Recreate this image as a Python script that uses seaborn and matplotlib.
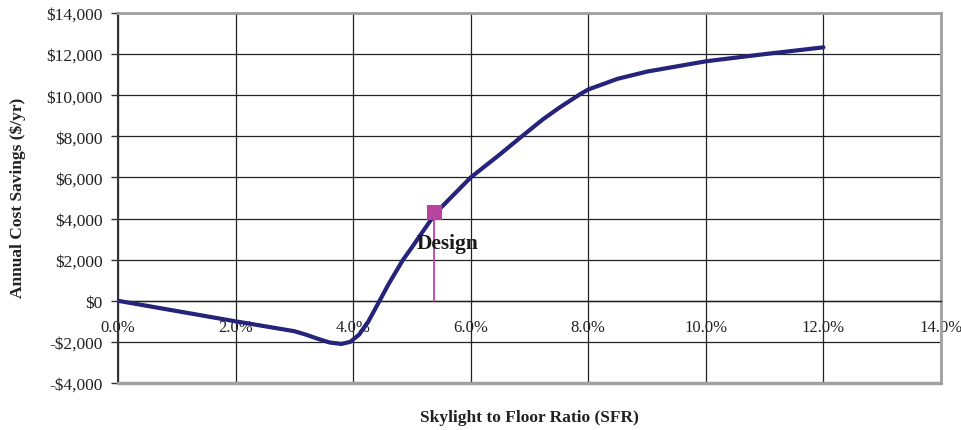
import matplotlib
matplotlib.use("Agg")
import matplotlib.pyplot as plt
import seaborn as sns
import pandas as pd
from matplotlib.ticker import FuncFormatter

# Data
sfr_pct = [0.0, 1.0, 2.0, 3.0, 3.2, 3.4, 3.6, 3.8, 3.95, 4.1, 4.25, 4.45, 4.6, 4.85, 5.0,
           5.35, 5.5, 6.0, 6.5, 6.87, 7.23, 7.5, 7.86, 8.0, 8.5, 9.0, 9.5, 10.0, 11.0, 12.0]
savings = [0, -500, -1000, -1480, -1650, -1850, -2030, -2100, -2000, -1650, -1050, 0, 800,
           2000, 2600, 4050, 4550, 6000, 7130, 8000, 8830, 9380, 10050, 10280, 10800, 11150,
           11400, 11650, 12000, 12330]
design_x = [5.37]
design_y = [4340]
design_label = "Design"
x_ticks = [0, 2, 4, 6, 8, 10, 12, 14]
y_ticks = [-4000, -2000, 0, 2000, 4000, 6000, 8000, 10000, 12000, 14000]

sns.set_theme(style="white")
plt.rcParams['font.family'] = ['Liberation Serif', 'DejaVu Serif']

fig = plt.figure(figsize=(9.61, 4.31), dpi=100)
ax = fig.add_axes([118/961, 1-384/431, (941-118)/961, (384-14)/431])

df = pd.DataFrame({"sfr": sfr_pct, "sav": savings})
sns.lineplot(data=df, x="sfr", y="sav", ax=ax, color="#25237A", lw=3, zorder=5)

# design drop line
ax.plot([design_x[0], design_x[0]], [0, design_y[0]], color="#C03FA8", lw=1.3, zorder=4)
sns.scatterplot(x=design_x, y=design_y, ax=ax, marker="s", s=90, color="#B8449E",
                edgecolor="#B8449E", zorder=6)
ax.text(5.08, 2820, design_label, fontsize=15.5, fontweight="bold", color="#1a1a1a",
        va="center", ha="left", zorder=7)

ax.set_xlim(0, 14)
ax.set_ylim(-4000, 14000)
ax.set_xticks(x_ticks)
ax.set_yticks(y_ticks)
ax.xaxis.set_major_formatter(FuncFormatter(lambda v, p: f"{v:.1f}%"))
ax.yaxis.set_major_formatter(FuncFormatter(
    lambda v, p: f"-${abs(v):,.0f}" if v < 0 else f"${v:,.0f}"))

ax.grid(True, color="#222222", lw=0.9)
ax.set_axisbelow(True)

# spines
ax.spines['bottom'].set_position(('data', 0))
ax.spines['bottom'].set_color("#222222")
ax.spines['bottom'].set_linewidth(1.0)
ax.spines['left'].set_color("#333333")
ax.spines['left'].set_linewidth(1.5)
for s in ['top', 'right']:
    ax.spines[s].set_color("#A0A0A0")
    ax.spines[s].set_linewidth(2)
ax.axhline(-4000, color="#A0A0A0", lw=2.5, zorder=3, clip_on=False)

ax.tick_params(axis='y', direction='out', length=5, width=1, color="#333333",
               labelsize=12.5, pad=6, left=True)
ax.tick_params(axis='x', direction='out', length=0, labelsize=12, pad=13)
for lab in ax.get_xticklabels() + ax.get_yticklabels():
    lab.set_color("#222222")

ax.set_xlabel("")
ax.set_ylabel("")
fig.text(18/961, 1-198/431, "Annual Cost Savings ($/yr)", rotation=90, fontsize=12.5,
         fontweight="bold", ha="center", va="center", color="#222222")
fig.text(529/961, 1-418/431, "Skylight to Floor Ratio (SFR)", fontsize=12.5,
         fontweight="bold", ha="center", va="center", color="#222222")

fig.savefig("out.png", dpi=100)
